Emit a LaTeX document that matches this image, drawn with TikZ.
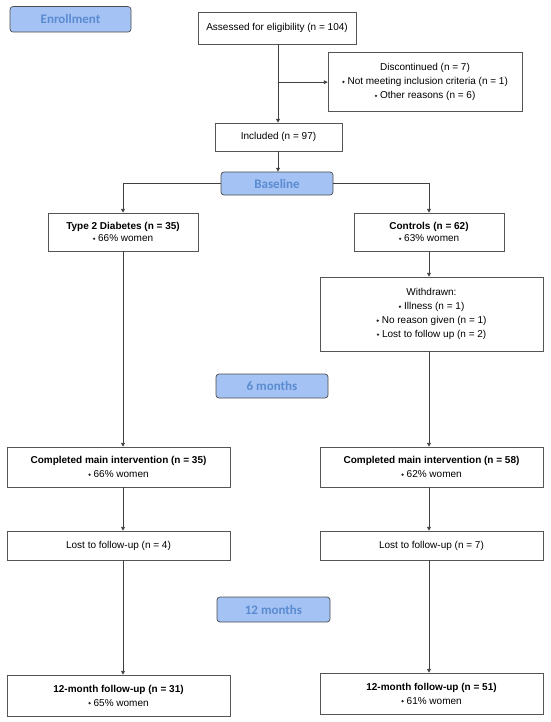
\documentclass[tikz,border=0pt]{standalone}
\usepackage{fontspec}
\setmainfont{Liberation Sans}
\newfontfamily\hdfont{Carlito}
\usetikzlibrary{arrows.meta}
\definecolor{hdfill}{HTML}{A4C2F4}
\definecolor{hdtext}{HTML}{5A8BD0}
\definecolor{edge}{HTML}{555555}
\newcommand{\bul}{\tikz[baseline=0pt]\fill[black!85] (0,4.2pt) -- (1.3pt,2.9pt) -- (0,1.6pt) -- (-1.3pt,2.9pt) -- cycle;\hspace{2.8pt}}
\tikzset{
  box/.style={draw=edge, fill=white, line width=0.6pt, align=center, inner sep=0pt, font=\fontsize{10}{14}\selectfont},
  tight/.style={font=\fontsize{10}{12.2}\selectfont},
  hdr/.style={draw=black!70, fill=hdfill, line width=0.7pt, rounded corners=3pt, inner sep=0pt, text=hdtext, font=\hdfont\bfseries\fontsize{13}{15}\selectfont},
  arr/.style={draw=black!75, line width=0.7pt, -{Triangle[length=3.8pt,width=3.8pt]}}
}
\begin{document}
\begin{tikzpicture}[x=1pt,y=-1pt]
\useasboundingbox (0,0) rectangle (550,722);
\node[hdr, minimum width=121pt, minimum height=25.5pt] (enroll) at (70.5,19.3) {Enrollment};
\node[box, minimum width=158pt, minimum height=31.7pt] (assess) at (277,28.2) {Assessed for eligibility (n = 104)};
\node[box, minimum width=194pt, minimum height=59pt] (disc) at (425,82.2) {Discontinued (n = 7)\\ \bul Not meeting inclusion criteria (n = 1)\\ \bul Other reasons (n = 6)};
\node[box, minimum width=127pt, minimum height=28pt] (incl) at (278.5,137) {Included (n = 97)};
\node[hdr, minimum width=112pt, minimum height=23pt] (base) at (277,183.5) {Baseline};
\node[box, tight, minimum width=150pt, minimum height=38pt] (t2) at (123,232) {\textbf{Type 2 Diabetes (n = 35)}\\ \bul 66\% women};
\node[box, tight, minimum width=150pt, minimum height=38pt] (ctrl) at (429,232) {\textbf{Controls (n = 62)}\\ \bul 63\% women};
\node[box, minimum width=223pt, minimum height=74pt] (wd) at (431.5,314) {Withdrawn:\\ \bul Illness (n = 1)\\ \bul No reason given (n = 1)\\ \bul Lost to follow up (n = 2)};
\node[hdr, minimum width=112pt, minimum height=24pt] (six) at (272,386) {6 months};
\node[box, minimum width=223pt, minimum height=40pt] (c1) at (118.5,467) {\textbf{Completed main intervention (n = 35)}\\ \bul 66\% women};
\node[box, minimum width=223pt, minimum height=40pt] (c2) at (431.5,467) {\textbf{Completed main intervention (n = 58)}\\ \bul 62\% women};
\node[box, minimum width=223pt, minimum height=29pt] (l1) at (118.5,545.5) {Lost to follow-up (n = 4)};
\node[box, minimum width=223pt, minimum height=29pt] (l2) at (431.5,545.5) {Lost to follow-up (n = 7)};
\node[hdr, minimum width=113pt, minimum height=25pt] (twelve) at (273.5,609.5) {12 months};
\node[box, minimum width=223pt, minimum height=41pt] (f1) at (118.5,695.5) {\textbf{12-month follow-up (n = 31)}\\ \bul 65\% women};
\node[box, minimum width=223pt, minimum height=41pt] (f2) at (431.5,693.5) {\textbf{12-month follow-up (n = 51)}\\ \bul 61\% women};
% connectors
\draw[arr] ([xshift=1pt]assess.south) -- ([xshift=1pt]assess.south |- incl.north);
\draw[arr] ([xshift=1pt]assess.south |- disc.west) -- (disc.west);
\draw[arr] ([xshift=1pt]assess.south |- incl.south) -- ([xshift=1pt]assess.south |- base.north);
\draw[arr] (base.west) -| (t2.north);
\draw[arr] (base.east) -| (ctrl.north);
\draw[arr] (ctrl.south) -- (ctrl.south |- wd.north);
\draw[arr] (ctrl.south |- wd.south) -- (ctrl.south |- c2.north);
\draw[arr] (t2.south) -- (t2.south |- c1.north);
\draw[arr] (t2.south |- c1.south) -- (t2.south |- l1.north);
\draw[arr] (t2.south |- l1.south) -- (t2.south |- f1.north);
\draw[arr] (ctrl.south |- c2.south) -- (ctrl.south |- l2.north);
\draw[arr] (ctrl.south |- l2.south) -- (ctrl.south |- f2.north);
\end{tikzpicture}
\end{document}
